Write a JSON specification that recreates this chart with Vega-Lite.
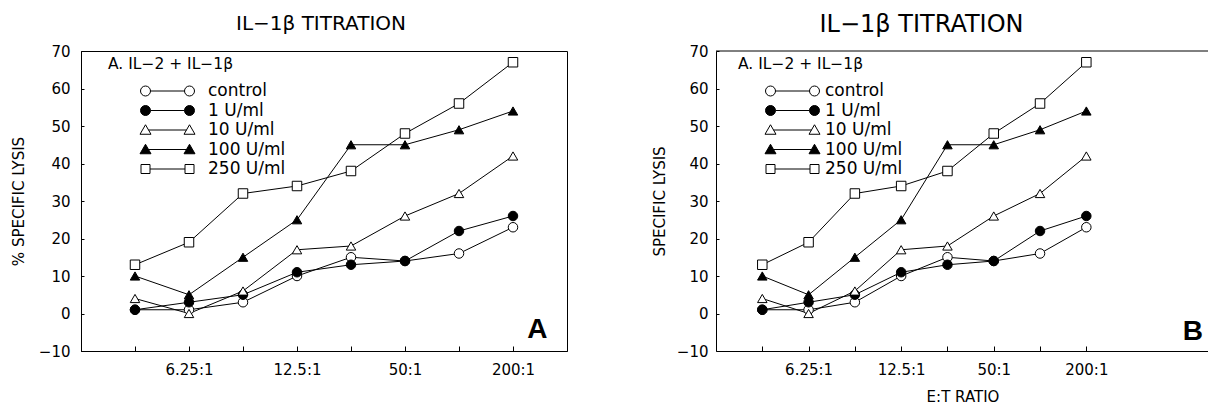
{
  "$schema": "https://vega.github.io/schema/vega-lite/v6.json",
  "padding": {"left": 10, "top": 12, "right": 0, "bottom": 0},
  "background": "white",
  "config": {
    "font": "DejaVu Sans",
    "view": {"stroke": "black", "strokeWidth": 1},
    "axis": {"domainColor": "black", "tickColor": "black", "labelColor": "black", "titleColor": "black", "grid": false, "labelFont": "DejaVu Sans", "labelFontSize": 15, "titleFont": "DejaVu Sans", "titleFontSize": 15, "titleFontWeight": "normal", "labelOverlap": false},
    "title": {"font": "DejaVu Sans", "fontWeight": "normal", "color": "black"},
    "concat": {"spacing": 84}
  },
  "datasets": {
    "lysis": [
      {"series": "control", "step": 1, "lysis": 1},
      {"series": "control", "step": 2, "lysis": 1},
      {"series": "control", "step": 3, "lysis": 3},
      {"series": "control", "step": 4, "lysis": 10},
      {"series": "control", "step": 5, "lysis": 15},
      {"series": "control", "step": 6, "lysis": 14},
      {"series": "control", "step": 7, "lysis": 16},
      {"series": "control", "step": 8, "lysis": 23},
      {"series": "1 U/ml", "step": 1, "lysis": 1},
      {"series": "1 U/ml", "step": 2, "lysis": 3},
      {"series": "1 U/ml", "step": 3, "lysis": 5},
      {"series": "1 U/ml", "step": 4, "lysis": 11},
      {"series": "1 U/ml", "step": 5, "lysis": 13},
      {"series": "1 U/ml", "step": 6, "lysis": 14},
      {"series": "1 U/ml", "step": 7, "lysis": 22},
      {"series": "1 U/ml", "step": 8, "lysis": 26},
      {"series": "10 U/ml", "step": 1, "lysis": 4},
      {"series": "10 U/ml", "step": 2, "lysis": 0},
      {"series": "10 U/ml", "step": 3, "lysis": 6},
      {"series": "10 U/ml", "step": 4, "lysis": 17},
      {"series": "10 U/ml", "step": 5, "lysis": 18},
      {"series": "10 U/ml", "step": 6, "lysis": 26},
      {"series": "10 U/ml", "step": 7, "lysis": 32},
      {"series": "10 U/ml", "step": 8, "lysis": 42},
      {"series": "100 U/ml", "step": 1, "lysis": 10},
      {"series": "100 U/ml", "step": 2, "lysis": 5},
      {"series": "100 U/ml", "step": 3, "lysis": 15},
      {"series": "100 U/ml", "step": 4, "lysis": 25},
      {"series": "100 U/ml", "step": 5, "lysis": 45},
      {"series": "100 U/ml", "step": 6, "lysis": 45},
      {"series": "100 U/ml", "step": 7, "lysis": 49},
      {"series": "100 U/ml", "step": 8, "lysis": 54},
      {"series": "250 U/ml", "step": 1, "lysis": 13},
      {"series": "250 U/ml", "step": 2, "lysis": 19},
      {"series": "250 U/ml", "step": 3, "lysis": 32},
      {"series": "250 U/ml", "step": 4, "lysis": 34},
      {"series": "250 U/ml", "step": 5, "lysis": 38},
      {"series": "250 U/ml", "step": 6, "lysis": 48},
      {"series": "250 U/ml", "step": 7, "lysis": 56},
      {"series": "250 U/ml", "step": 8, "lysis": 67}
    ]
  },
  "hconcat": [
    {
      "width": 486,
      "height": 300,
      "title": {"text": "IL−1β TITRATION", "fontSize": 20, "offset": 10.5, "dx": -3},
      "data": {"name": "lysis"},
      "encoding": {
        "x": {"field": "step", "type": "quantitative", "scale": {"domain": [0, 9], "nice": false},
          "axis": {"values": [1, 2, 3, 4, 5, 6, 7, 8], "title": null, "tickSize": -5, "labelPadding": 16, "labelOverlap": false,
            "labelExpr": "datum.value == 2 ? '6.25:1' : datum.value == 4 ? '12.5:1' : datum.value == 6 ? '50:1' : datum.value == 8 ? '200:1' : ''"}},
        "y": {"field": "lysis", "type": "quantitative", "scale": {"domain": [-10, 70], "nice": false},
          "axis": {"values": [-10, 0, 10, 20, 30, 40, 50, 60, 70], "title": "% SPECIFIC LYSIS", "tickSize": -3, "labelPadding": 14, "titlePadding": 12, "labelOverlap": false}}
      },
      "layer": [
        {"mark": {"type": "line", "color": "black", "strokeWidth": 1},
          "encoding": {"detail": {"field": "series"}}},
        {"mark": {"type": "point", "size": 90, "stroke": "black", "strokeWidth": 1, "opacity": 1, "filled": true},
          "encoding": {
            "shape": {"field": "series", "type": "nominal", "legend": null, "scale": {"domain": ["control", "1 U/ml", "10 U/ml", "100 U/ml", "250 U/ml"], "range": ["circle", "circle", "triangle-up", "triangle-up", "square"]}},
            "fill": {"field": "series", "type": "nominal", "legend": null, "scale": {"domain": ["control", "1 U/ml", "10 U/ml", "100 U/ml", "250 U/ml"], "range": ["white", "black", "white", "black", "white"]}}
          }},
        {"mark": {"type": "point", "size": 100, "stroke": "black", "strokeWidth": 1, "opacity": 0, "filled": true},
          "encoding": {
            "shape": {"field": "series", "type": "nominal",
              "scale": {"domain": ["control", "1 U/ml", "10 U/ml", "100 U/ml", "250 U/ml"],
                "range": [
                  "M-5.4,0A1,1,0,1,1,-3.4,0A1,1,0,1,1,-5.4,0ZM-3.4,0L3.4,0M3.4,0A1,1,0,1,1,5.4,0A1,1,0,1,1,3.4,0Z",
                  "M-5.4,0A1,1,0,1,1,-3.4,0A1,1,0,1,1,-5.4,0ZM-3.4,0L3.4,0M3.4,0A1,1,0,1,1,5.4,0A1,1,0,1,1,3.4,0Z",
                  "M-4.4,-1.05L-3.3,0.85L-5.5,0.85ZM-3.8,0L3.8,0M4.4,-1.05L5.5,0.85L3.3,0.85Z",
                  "M-4.4,-1.05L-3.3,0.85L-5.5,0.85ZM-3.8,0L3.8,0M4.4,-1.05L5.5,0.85L3.3,0.85Z",
                  "M-5.3,-0.9L-3.5,-0.9L-3.5,0.9L-5.3,0.9ZM-3.5,0L3.5,0M3.5,-0.9L5.3,-0.9L5.3,0.9L3.5,0.9Z"
                ]},
              "legend": {"title": "A.  IL−2 + IL−1β", "orient": "none", "legendX": 27, "legendY": 6, "symbolOffset": 51, "labelOffset": 32, "symbolSize": 100, "symbolStrokeWidth": 1, "symbolStrokeColor": "black", "symbolOpacity": 1, "titleFont": "DejaVu Sans", "titleFontSize": 15.5, "titleFontWeight": "normal", "titlePadding": 10, "labelFont": "DejaVu Sans", "labelFontSize": 17, "rowPadding": 1.5, "labelColor": "black", "titleColor": "black",
                "encode": {"symbols": {"update": {"stroke": {"value": "black"}, "strokeWidth": {"value": 1}, "opacity": {"value": 1}}}}}},
            "fill": {"field": "series", "type": "nominal",
              "scale": {"domain": ["control", "1 U/ml", "10 U/ml", "100 U/ml", "250 U/ml"], "range": ["white", "black", "white", "black", "white"]},
              "legend": {"title": "A.  IL−2 + IL−1β", "orient": "none", "legendX": 27, "legendY": 6, "symbolOffset": 51, "labelOffset": 32, "symbolSize": 100, "symbolStrokeWidth": 1, "symbolStrokeColor": "black", "symbolOpacity": 1, "titleFont": "DejaVu Sans", "titleFontSize": 15.5, "titleFontWeight": "normal", "titlePadding": 10, "labelFont": "DejaVu Sans", "labelFontSize": 17, "rowPadding": 1.5, "labelColor": "black", "titleColor": "black",
                "encode": {"symbols": {"update": {"stroke": {"value": "black"}, "strokeWidth": {"value": 1}, "opacity": {"value": 1}}}}}}
          }},
        {"data": {"values": [{"panel": "A", "step": 8.45, "lysis": -6.5}]},
          "mark": {"type": "text", "font": "Liberation Sans", "fontWeight": "bold", "fontSize": 28, "align": "center", "baseline": "alphabetic", "color": "black"},
          "encoding": {"text": {"field": "panel", "type": "nominal"}}}
      ],
      "resolve": {"scale": {"shape": "independent", "fill": "independent"}}
    },
    {
      "width": 493,
      "height": 300,
      "view": {"stroke": null},
      "title": {"text": "IL−1β TITRATION", "fontSize": 24, "offset": 7.5, "dx": -41},
      "data": {"name": "lysis"},
      "encoding": {
        "x": {"field": "step", "type": "quantitative", "scale": {"domain": [0, 10.65], "nice": false},
          "axis": {"values": [1, 2, 3, 4, 5, 6, 7, 8], "title": "E:T RATIO", "titlePadding": 12, "tickSize": -5, "labelPadding": 16, "labelOverlap": false,
            "labelExpr": "datum.value == 2 ? '6.25:1' : datum.value == 4 ? '12.5:1' : datum.value == 6 ? '50:1' : datum.value == 8 ? '200:1' : ''"}},
        "y": {"field": "lysis", "type": "quantitative", "scale": {"domain": [-10, 70], "nice": false},
          "axis": {"values": [-10, 0, 10, 20, 30, 40, 50, 60, 70], "title": "SPECIFIC LYSIS", "tickSize": -3, "labelPadding": 11, "titlePadding": 9, "labelOverlap": false}}
      },
      "layer": [
        {"data": {"values": [{"edge": 70}]}, "mark": {"type": "rule", "color": "black", "strokeWidth": 1}, "encoding": {"x": null, "y": {"field": "edge", "type": "quantitative"}}},
        {"mark": {"type": "line", "color": "black", "strokeWidth": 1},
          "encoding": {"detail": {"field": "series"}}},
        {"mark": {"type": "point", "size": 90, "stroke": "black", "strokeWidth": 1, "opacity": 1, "filled": true},
          "encoding": {
            "shape": {"field": "series", "type": "nominal", "legend": null, "scale": {"domain": ["control", "1 U/ml", "10 U/ml", "100 U/ml", "250 U/ml"], "range": ["circle", "circle", "triangle-up", "triangle-up", "square"]}},
            "fill": {"field": "series", "type": "nominal", "legend": null, "scale": {"domain": ["control", "1 U/ml", "10 U/ml", "100 U/ml", "250 U/ml"], "range": ["white", "black", "white", "black", "white"]}}
          }},
        {"mark": {"type": "point", "size": 100, "stroke": "black", "strokeWidth": 1, "opacity": 0, "filled": true},
          "encoding": {
            "shape": {"field": "series", "type": "nominal",
              "scale": {"domain": ["control", "1 U/ml", "10 U/ml", "100 U/ml", "250 U/ml"],
                "range": [
                  "M-5.4,0A1,1,0,1,1,-3.4,0A1,1,0,1,1,-5.4,0ZM-3.4,0L3.4,0M3.4,0A1,1,0,1,1,5.4,0A1,1,0,1,1,3.4,0Z",
                  "M-5.4,0A1,1,0,1,1,-3.4,0A1,1,0,1,1,-5.4,0ZM-3.4,0L3.4,0M3.4,0A1,1,0,1,1,5.4,0A1,1,0,1,1,3.4,0Z",
                  "M-4.4,-1.05L-3.3,0.85L-5.5,0.85ZM-3.8,0L3.8,0M4.4,-1.05L5.5,0.85L3.3,0.85Z",
                  "M-4.4,-1.05L-3.3,0.85L-5.5,0.85ZM-3.8,0L3.8,0M4.4,-1.05L5.5,0.85L3.3,0.85Z",
                  "M-5.3,-0.9L-3.5,-0.9L-3.5,0.9L-5.3,0.9ZM-3.5,0L3.5,0M3.5,-0.9L5.3,-0.9L5.3,0.9L3.5,0.9Z"
                ]},
              "legend": {"title": "A.  IL−2 + IL−1β", "orient": "none", "legendX": 22, "legendY": 6, "symbolOffset": 46, "labelOffset": 24, "symbolSize": 100, "symbolStrokeWidth": 1, "symbolStrokeColor": "black", "symbolOpacity": 1, "titleFont": "DejaVu Sans", "titleFontSize": 15.5, "titleFontWeight": "normal", "titlePadding": 10, "labelFont": "DejaVu Sans", "labelFontSize": 17, "rowPadding": 1.5, "labelColor": "black", "titleColor": "black",
                "encode": {"symbols": {"update": {"stroke": {"value": "black"}, "strokeWidth": {"value": 1}, "opacity": {"value": 1}}}}}},
            "fill": {"field": "series", "type": "nominal",
              "scale": {"domain": ["control", "1 U/ml", "10 U/ml", "100 U/ml", "250 U/ml"], "range": ["white", "black", "white", "black", "white"]},
              "legend": {"title": "A.  IL−2 + IL−1β", "orient": "none", "legendX": 22, "legendY": 6, "symbolOffset": 46, "labelOffset": 24, "symbolSize": 100, "symbolStrokeWidth": 1, "symbolStrokeColor": "black", "symbolOpacity": 1, "titleFont": "DejaVu Sans", "titleFontSize": 15.5, "titleFontWeight": "normal", "titlePadding": 10, "labelFont": "DejaVu Sans", "labelFontSize": 17, "rowPadding": 1.5, "labelColor": "black", "titleColor": "black",
                "encode": {"symbols": {"update": {"stroke": {"value": "black"}, "strokeWidth": {"value": 1}, "opacity": {"value": 1}}}}}}
          }},
        {"data": {"values": [{"panel": "B", "step": 10.3, "lysis": -7}]},
          "mark": {"type": "text", "font": "Liberation Sans", "fontWeight": "bold", "fontSize": 28, "align": "center", "baseline": "alphabetic", "color": "black"},
          "encoding": {"text": {"field": "panel", "type": "nominal"}}}
      ],
      "resolve": {"scale": {"shape": "independent", "fill": "independent"}}
    }
  ]
}
